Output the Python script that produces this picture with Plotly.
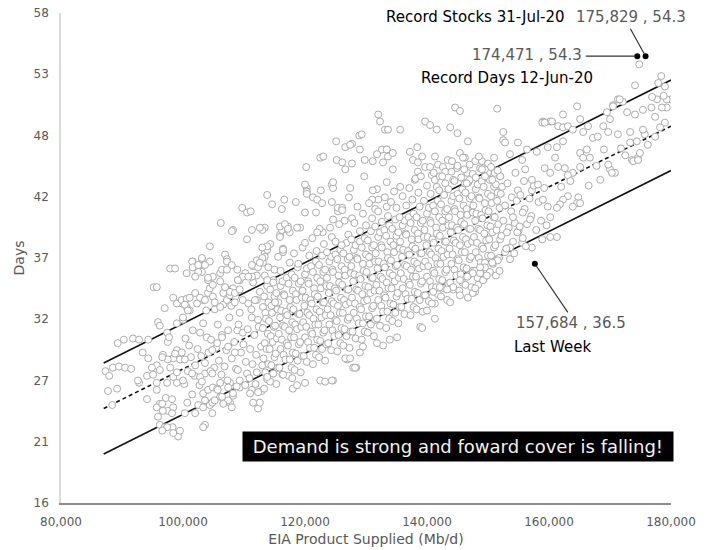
import plotly.graph_objects as go

# ---------------- data (x in thousand Mb/d, y in days) ----------------
left_sparse = [
    (87.3,27.3),(87.9,26.9),(88.5,27.6),(89.5,27.7),(90.5,27.6),(91.5,27.5),(87.7,25.6),(89.2,25.8),(88.4,24.4),
    (89.3,29.7),(90.3,30.0),(91.8,30.1),(92.8,30.0),(94.3,30.0),
    (92.8,26.3),(94.1,26.9),(94.1,24.9),(95.7,26.3),(95.1,27.0),(96.2,24.5),(95.9,23.4),(96.2,22.7),(97.0,22.5),
    (98.3,22.5),(99.2,21.7),(97.5,23.9),(98.4,24.2),(97.2,25.0),(98.2,24.9),
    (95.2,34.5),(95.7,34.5),(98.4,33.6),(97.0,32.7),(95.9,31.5),(96.2,31.2),(97.4,30.6),(97.5,29.8),(97.7,30.2),
    (99.0,31.4),(100.0,31.7),(99.8,33.1),(99.0,29.1),(99.8,28.9),(98.4,28.4),(99.5,28.3),(96.7,28.7),(97.5,28.3),
    (95.7,27.8),(96.2,27.4),(95.7,25.7),(97.4,26.3),(98.4,26.8),(99.0,26.3),(97.9,27.6),
    (97.9,36.1),(98.7,36.1),(93.4,28.9),(94.3,28.4),(92.6,26.5),(94.9,27.6),
    (96.6,28.5),(98.7,28.8),(99.0,27.2),(99.0,33.1),(99.8,33.4),
    (95.7,24.2),(96.6,24.5),(96.7,23.9),(98.2,23.7),(97.4,22.5),(96.6,22.2),(98.4,22.0),(99.5,22.2),
]

band_100_113 = [
    (100.6,35.7),(101.6,36.7),(103.1,36.9),(102.4,36.2),(103.1,35.8),(104.4,38.0),(106.9,37.3),(107.2,36.9),
    (100.6,33.5),(100.6,32.8),(101.1,32.5),(102.3,33.1),(103.3,33.4),(104.1,35.1),(104.9,35.4),(106.1,35.7),
    (107.2,34.3),(108.2,34.4),(109.3,35.1),(110.2,35.7),(112.1,35.5),(111.5,34.9),(109.8,33.4),(110.7,33.1),
    (112.1,33.4),(113.1,32.8),(109.3,32.3),(111.3,31.9),(112.3,31.7),(107.4,30.8),(108.9,30.8),(109.8,30.6),
    (105.7,31.3),(103.3,31.4),(101.6,30.8),(102.8,30.6),(103.9,30.2),
    (103.6,22.7),(102.5,24.4),(103.3,24.2),(104.4,24.4),(104.8,24.6),(103.3,25.4),(104.1,25.7),(104.9,25.9),
    (106.1,25.1),(107.7,24.6),(108.2,25.2),(109.3,25.9),(110.2,26.1),(111.3,25.7),(112.3,24.1),(112.6,24.6),
    (111.5,24.6),(106.1,26.3),(107.7,26.3),(109.3,26.5),(110.5,27.1),(112.1,27.2),
    (100.2,26.2),(100.8,27.3),(101.3,28.5),(101.9,26.9),(102.4,29.2),(102.0,27.8),(103.0,28.6),(103.6,27.1),
    (104.2,28.9),(104.6,30.0),(105.1,27.6),(105.4,29.3),(105.9,28.2),(106.4,30.4),(106.8,27.7),(107.1,29.1),
    (107.6,31.9),(108.0,28.4),(108.4,29.8),(108.7,27.5),(109.1,31.3),(109.5,28.9),(109.9,29.6),(110.3,28.1),
    (110.6,30.9),(111.0,29.2),(111.4,27.9),(111.7,30.4),(112.0,28.7),(112.4,31.1),(112.8,29.4),(113.0,27.8),
    (101.0,29.5),(100.4,30.1),(103.8,32.5),(105.2,32.6),(106.6,33.0),(107.9,32.9),(108.6,33.7),(111.2,32.6),
    (112.6,34.1),(104.5,27.3),(106.3,27.0),(107.3,26.5),(109.0,27.4),(110.9,26.7),(111.9,26.2),(102.7,26.1),
    (101.5,25.3),(100.7,24.6),(105.6,25.8),(108.8,26.0),(112.9,25.6),
    (100.3,28.3),(100.0,26.5),(101.5,27.1),(102.8,26.8),(103.1,26.4),(103.6,28.0),(104.8,29.1),(105.6,29.7),
    (106.4,30.2),(107.4,29.4),(108.5,28.9),(104.8,27.1),(105.7,25.7),(107.4,25.9),
    (100.3,33.0),(100.8,32.5),(100.0,31.9),(101.1,33.6),(102.0,34.0),(102.8,33.6),(103.6,33.4),(104.1,34.0),
    (104.4,34.4),(104.9,33.7),(105.2,33.2),(106.1,32.8),(106.6,34.0),(107.2,33.4),(107.7,33.8),(108.5,33.2),
    (109.0,35.1),(104.4,36.7),(101.5,36.7),(101.6,36.2),(102.5,35.8),(102.0,35.4),(103.6,36.4),(107.2,36.7),
    (104.1,35.3),(104.9,34.7),(106.1,35.0),(106.9,34.5),(107.7,34.1),(108.5,34.0),(109.3,34.3),
    (100.3,23.7),(102.0,23.7),(103.6,24.8),(103.3,22.5),(104.8,23.7),(105.2,24.8),(106.4,25.1),(107.4,24.8),
    (108.2,25.4),(108.0,24.2),(106.6,24.5),
]

core_113_152 = [
    (113.3,25.8),(113.5,27.2),(113.2,28.4),(113.4,29.7),(113.1,31.0),(113.5,32.3),(113.3,33.7),
    (113.8,26.6),(114.0,27.9),(113.7,29.2),(113.9,30.5),(113.6,31.8),(114.0,33.2),(113.8,34.6),
    (114.3,26.4),(114.5,27.8),(114.2,29.2),(114.4,30.3),(114.1,31.6),(114.5,32.9),(114.3,34.3),
    (114.8,27.1),(115.0,28.5),(114.7,29.8),(114.9,31.1),(114.6,32.3),(115.0,33.7),(114.8,35.1),
    (115.3,26.2),(115.5,27.6),(115.2,28.8),(115.4,30.1),(115.1,31.2),(115.5,32.6),(115.3,34.0),
    (115.8,27.6),(116.0,29.2),(115.7,30.5),(115.9,31.9),(115.6,33.2),(116.0,34.6),
    (116.3,27.0),(116.5,28.7),(116.2,30.0),(116.4,31.2),(116.1,32.5),(116.5,33.9),(116.3,35.0),
    (116.8,28.3),(117.0,29.7),(116.7,31.1),(116.9,32.4),(116.6,33.8),(117.0,35.3),
    (117.3,26.9),(117.5,28.3),(117.2,29.5),(117.4,30.8),(117.1,32.1),(117.5,33.4),(117.3,34.8),
    (117.8,27.6),(118.0,28.9),(117.7,30.2),(117.9,31.5),(117.6,32.8),(118.0,34.2),(117.8,35.6),
    (118.3,27.4),(118.5,28.8),(118.2,30.2),(118.4,31.3),(118.1,32.6),(118.5,33.9),(118.3,35.3),
    (118.8,28.2),(119.0,29.6),(118.7,30.9),(118.9,32.2),(118.6,33.4),(119.0,34.8),(118.8,36.2),
    (119.3,27.2),(119.5,28.6),(119.2,29.8),(119.4,31.1),(119.1,32.2),(119.5,33.6),(119.3,35.0),
    (119.8,28.6),(120.0,30.2),(119.7,31.5),(119.9,32.9),(119.6,34.2),(120.0,35.6),
    (120.3,28.1),(120.5,29.8),(120.2,31.1),(120.4,32.3),(120.1,33.6),(120.5,35.0),(120.3,36.1),
    (120.8,29.3),(121.0,30.7),(120.7,32.1),(120.9,33.4),(120.6,34.8),(121.0,36.3),
    (121.3,27.9),(121.5,29.3),(121.2,30.5),(121.4,31.8),(121.1,33.1),(121.5,34.4),(121.3,35.8),
    (121.8,28.7),(122.0,30.0),(121.7,31.3),(121.9,32.6),(121.6,33.9),(122.0,35.3),(121.8,36.7),
    (122.3,28.5),(122.5,29.9),(122.2,31.3),(122.4,32.4),(122.1,33.7),(122.5,35.0),(122.3,36.4),
    (122.8,29.2),(123.0,30.6),(122.7,31.9),(122.9,33.2),(122.6,34.4),(123.0,35.8),(122.8,37.2),
    (123.3,28.2),(123.5,29.6),(123.2,30.8),(123.4,32.1),(123.1,33.2),(123.5,34.6),(123.3,36.0),
    (123.8,29.7),(124.0,31.3),(123.7,32.6),(123.9,34.0),(123.6,35.3),(124.0,36.7),
    (124.3,29.1),(124.5,30.8),(124.2,32.1),(124.4,33.3),(124.1,34.6),(124.5,36.0),(124.3,37.1),
    (124.8,30.3),(125.0,31.7),(124.7,33.1),(124.9,34.4),(124.6,35.8),(125.0,37.3),
    (125.3,29.0),(125.5,30.4),(125.2,31.6),(125.4,32.9),(125.1,34.2),(125.5,35.5),(125.3,36.9),
    (125.8,29.7),(126.0,31.0),(125.7,32.3),(125.9,33.6),(125.6,34.9),(126.0,36.3),(125.8,37.7),
    (126.3,29.5),(126.5,30.9),(126.2,32.3),(126.4,33.4),(126.1,34.7),(126.5,36.0),(126.3,37.4),
    (126.8,30.3),(127.0,31.7),(126.7,33.0),(126.9,34.3),(126.6,35.5),(127.0,36.9),(126.8,38.3),
    (127.3,29.3),(127.5,30.7),(127.2,31.9),(127.4,33.2),(127.1,34.3),(127.5,35.7),(127.3,37.1),
    (127.8,30.7),(128.0,32.3),(127.7,33.6),(127.9,35.0),(127.6,36.3),(128.0,37.7),
    (128.3,30.1),(128.5,31.8),(128.2,33.1),(128.4,34.3),(128.1,35.6),(128.5,37.0),(128.3,38.1),
    (128.8,31.4),(129.0,32.8),(128.7,34.2),(128.9,35.5),(128.6,36.9),(129.0,38.4),
    (129.3,30.0),(129.5,31.4),(129.2,32.6),(129.4,33.9),(129.1,35.2),(129.5,36.5),(129.3,37.9),
    (129.8,30.7),(130.0,32.0),(129.7,33.3),(129.9,34.6),(129.6,35.9),(130.0,37.3),(129.8,38.7),
    (130.3,30.6),(130.5,32.0),(130.2,33.4),(130.4,34.5),(130.1,35.8),(130.5,37.1),(130.3,38.5),
    (130.8,31.3),(131.0,32.7),(130.7,34.0),(130.9,35.3),(130.6,36.5),(131.0,37.9),(130.8,39.3),
    (131.3,30.3),(131.5,31.7),(131.2,32.9),(131.4,34.2),(131.1,35.3),(131.5,36.7),(131.3,38.1),
    (131.8,31.8),(132.0,33.4),(131.7,34.7),(131.9,36.1),(131.6,37.4),(132.0,38.8),
    (132.3,31.2),(132.5,32.9),(132.2,34.2),(132.4,35.4),(132.1,36.7),(132.5,38.1),(132.3,39.2),
    (132.8,32.4),(133.0,33.8),(132.7,35.2),(132.9,36.5),(132.6,37.9),(133.0,39.4),
    (133.3,31.0),(133.5,32.4),(133.2,33.6),(133.4,34.9),(133.1,36.2),(133.5,37.5),(133.3,38.9),
    (133.8,31.8),(134.0,33.1),(133.7,34.4),(133.9,35.7),(133.6,37.0),(134.0,38.4),(133.8,39.8),
    (134.3,31.6),(134.5,33.0),(134.2,34.4),(134.4,35.5),(134.1,36.8),(134.5,38.1),(134.3,39.5),
    (134.8,32.3),(135.0,33.7),(134.7,35.0),(134.9,36.3),(134.6,37.5),(135.0,38.9),(134.8,40.3),
    (135.3,31.4),(135.5,32.8),(135.2,34.0),(135.4,35.3),(135.1,36.4),(135.5,37.8),(135.3,39.2),
    (135.8,32.8),(136.0,34.4),(135.7,35.7),(135.9,37.1),(135.6,38.4),(136.0,39.8),
    (136.3,32.2),(136.5,33.9),(136.2,35.2),(136.4,36.4),(136.1,37.7),(136.5,39.1),(136.3,40.2),
    (136.8,33.5),(137.0,34.9),(136.7,36.3),(136.9,37.6),(136.6,39.0),(137.0,40.5),
    (137.3,32.1),(137.5,33.5),(137.2,34.7),(137.4,36.0),(137.1,37.3),(137.5,38.6),(137.3,40.0),
    (137.8,32.8),(138.0,34.1),(137.7,35.4),(137.9,36.7),(137.6,38.0),(138.0,39.4),(137.8,40.8),
    (138.3,32.6),(138.5,34.0),(138.2,35.4),(138.4,36.5),(138.1,37.8),(138.5,39.1),(138.3,40.5),
    (138.8,33.4),(139.0,34.8),(138.7,36.1),(138.9,37.4),(138.6,38.6),(139.0,40.0),(138.8,41.4),
    (139.3,32.4),(139.5,33.8),(139.2,35.0),(139.4,36.3),(139.1,37.4),(139.5,38.8),(139.3,40.2),
    (139.8,33.8),(140.0,35.4),(139.7,36.7),(139.9,38.1),(139.6,39.4),(140.0,40.8),
    (140.3,33.3),(140.5,35.0),(140.2,36.3),(140.4,37.5),(140.1,38.8),(140.5,40.2),(140.3,41.3),
    (140.8,34.5),(141.0,35.9),(140.7,37.3),(140.9,38.6),(140.6,40.0),(141.0,41.5),
    (141.3,33.1),(141.5,34.5),(141.2,35.7),(141.4,37.0),(141.1,38.3),(141.5,39.6),(141.3,41.0),
    (141.8,33.9),(142.0,35.2),(141.7,36.5),(141.9,37.8),(141.6,39.1),(142.0,40.5),(141.8,41.9),
    (142.3,33.7),(142.5,35.1),(142.2,36.5),(142.4,37.6),(142.1,38.9),(142.5,40.2),(142.3,41.6),
    (142.8,34.4),(143.0,35.8),(142.7,37.1),(142.9,38.4),(142.6,39.6),(143.0,41.0),(142.8,42.4),
    (143.3,33.4),(143.5,34.8),(143.2,36.0),(143.4,37.3),(143.1,38.4),(143.5,39.8),(143.3,41.2),
    (143.8,34.9),(144.0,36.5),(143.7,37.8),(143.9,39.2),(143.6,40.5),(144.0,41.9),
    (144.3,34.3),(144.5,36.0),(144.2,37.3),(144.4,38.5),(144.1,39.8),(144.5,41.2),(144.3,42.3),
    (144.8,35.5),(145.0,36.9),(144.7,38.3),(144.9,39.6),(144.6,41.0),(145.0,42.5),
    (145.3,34.2),(145.5,35.6),(145.2,36.8),(145.4,38.1),(145.1,39.4),(145.5,40.7),(145.3,42.1),
    (145.8,34.9),(146.0,36.2),(145.7,37.5),(145.9,38.8),(145.6,40.1),(146.0,41.5),(145.8,42.9),
    (146.3,34.7),(146.5,36.1),(146.2,37.5),(146.4,38.6),(146.1,39.9),(146.5,41.2),(146.3,42.6),
    (146.8,35.5),(147.0,36.9),(146.7,38.2),(146.9,39.5),(146.6,40.7),(147.0,42.1),(146.8,43.5),
    (147.3,34.5),(147.5,35.9),(147.2,37.1),(147.4,38.4),(147.1,39.5),(147.5,40.9),(147.3,42.3),
    (147.8,35.9),(148.0,37.5),(147.7,38.8),(147.9,40.2),(147.6,41.5),(148.0,42.9),
    (148.3,35.3),(148.5,37.0),(148.2,38.3),(148.4,39.5),(148.1,40.8),(148.5,42.2),(148.3,43.3),
    (148.8,36.6),(149.0,38.0),(148.7,39.4),(148.9,40.7),(148.6,42.1),(149.0,43.6),
    (149.3,35.2),(149.5,36.6),(149.2,37.8),(149.4,39.1),(149.1,40.4),(149.5,41.7),(149.3,43.1),
    (149.8,35.9),(150.0,37.2),(149.7,38.5),(149.9,39.8),(149.6,41.1),(150.0,42.5),(149.8,43.9),
    (150.3,35.8),(150.5,37.2),(150.2,38.6),(150.4,39.7),(150.1,41.0),(150.5,42.3),(150.3,43.7),
    (150.8,36.5),(151.0,37.9),(150.7,39.2),(150.9,40.5),(150.6,41.7),(151.0,43.1),(150.8,44.5),
    (151.3,35.5),(151.5,36.9),(151.2,38.1),(151.4,39.4),(151.1,40.5),(151.5,41.9),(151.3,43.3),
    (151.8,37.0),(152.0,38.6),(151.7,39.9),(151.9,41.3),(151.6,42.6),(152.0,44.0),
]

lower_edge = [
    (113.8,26.8),(114.8,27.1),(116.4,27.0),(118.0,25.8),(120.0,26.3),(122.5,26.5),(124.6,26.5),(126.9,28.3),
    (127.9,27.6),(123.3,26.4),(124.4,26.5),(128.4,27.6),(126.6,28.4),(118.7,26.1),(117.9,26.7),(112.3,25.5),
    (111.0,25.4),(138.9,31.1),(139.2,31.0),(141.3,31.8),(140.0,32.5),(140.8,33.1),(143.8,33.2),(145.4,33.8),
    (146.7,33.6),(147.9,34.1),(148.4,34.7),(149.2,35.1),(149.8,35.5),(148.7,35.7),(135.1,30.2),(133.9,30.0),
    (132.8,29.5),(131.8,29.7),(129.5,29.4),(128.2,27.6),(127.4,28.4),(129.0,28.9),(157.2,37.9),(155.6,38.3),
    (153.6,37.9),(152.8,37.5),(151.6,36.8),(150.7,36.6),(149.5,36.2),(148.7,36.2),(147.5,35.7),(146.6,35.4),
    (145.4,35.1),(144.3,34.5),(143.3,34.3),(142.1,34.5),(141.0,34.1),(139.7,33.8),(147.5,34.0),(147.9,34.4),
]

upper_spread = [
    (106.2,40.0),(108.2,39.4),(108.0,39.3),(109.7,41.3),(110.5,40.9),(111.1,41.0),(110.5,38.6),(111.5,36.3),
    (112.3,36.2),(113.4,35.5),(112.1,36.8),(113.1,36.6),(113.4,37.4),(113.8,42.4),(114.6,41.6),(116.2,41.2),
    (116.6,42.0),(115.9,39.0),(116.2,39.4),(116.4,37.8),(116.4,37.5),(117.2,39.7),(117.2,39.4),(118.5,41.8),
    (119.2,39.6),(120.2,44.8),(120.3,43.0),(120.3,42.7),(120.3,42.5),(121.3,42.2),(122.0,42.0),(122.8,41.7),
    (122.6,42.8),(122.5,45.6),(123.0,45.7),(121.8,40.9),(122.9,39.2),(124.4,41.8),(124.6,40.3),(124.4,43.3),
    (124.6,43.0),(125.1,47.0),(126.6,46.5),(127.7,46.8),(125.2,45.4),(126.1,45.2),(126.6,44.6),(127.7,45.1),
    (127.4,43.0),(127.2,42.2),(125.4,41.0),(127.7,40.4),(128.9,47.5),
    (132.0,49.3),(132.3,48.7),(133.1,48.0),(129.3,47.6),(133.4,46.3),(132.6,46.3),(131.8,45.9),(131.1,45.3),
    (129.8,45.4),(129.7,44.0),(131.8,42.9),(131.1,42.8),(132.0,42.0),(131.0,42.0),(131.5,41.2),(133.4,41.4),
    (133.4,43.5),(125.4,41.3),(126.1,41.3),(124.4,38.8),(118.7,39.6),(117.5,39.2),(115.9,39.7),(116.7,39.9),
    (113.4,39.6),(113.0,39.4),(114.3,38.2),(116.4,37.7),(113.4,37.1),(111.3,35.4),(113.8,35.1),(114.8,34.9),
    (111.8,33.4),(115.1,33.2),
    (135.6,48.0),(139.7,48.7),(140.5,48.4),(141.6,48.0),(143.8,48.2),(145.0,47.7),(144.6,49.9),(145.4,49.6),
    (151.5,49.8),(152.5,47.8),(152.5,47.1),(152.8,46.9),(154.9,46.9),(153.6,45.9),(146.7,47.0),(127.4,46.7),
    (129.0,46.3),(133.4,46.3),(133.6,45.7),(132.8,45.2),(134.4,46.0),(138.4,46.5),(137.7,45.4),(139.2,45.7),
    (138.5,45.2),(139.7,44.8),(141.3,45.7),(141.8,45.0),(140.5,44.8),(142.6,44.8),(143.4,45.4),(145.4,46.0),
    (146.2,45.6),(144.9,44.7),(146.6,44.3),(147.9,45.3),(149.0,45.3),(148.7,44.7),(150.0,44.3),(151.1,44.3),
    (133.6,48.0),(134.4,44.6),(135.6,43.1),(137.2,46.1),(138.5,44.4),(138.0,43.7),(140.8,44.1),(141.3,43.7),
    (142.1,44.0),(143.0,44.4),(144.1,45.3),(145.9,45.6),(144.3,43.7),(146.2,43.4),(147.0,43.7),(149.5,44.6),
    (150.7,43.7),(152.0,44.0),(152.3,43.1),(153.9,42.2),(154.9,42.8),(157.2,42.8),
    (114.0,36.2),(115.0,36.0),(115.6,37.1),(116.0,35.9),(117.5,36.6),(118.2,37.4),(118.9,36.5),(119.6,37.9),
    (120.0,38.3),(120.7,37.2),(121.2,38.7),(121.9,37.6),(122.4,39.5),(123.1,38.2),(123.6,37.5),(124.1,39.6),
    (125.0,38.4),(125.6,39.9),(126.0,38.1),(126.5,40.2),(127.1,39.0),(127.6,38.6),(128.1,40.0),(128.6,41.4),
    (129.0,39.3),(129.5,40.8),(130.0,39.8),(130.5,41.7),(131.0,40.4),(131.5,39.7),(132.0,41.0),(132.6,40.1),
    (133.1,42.2),(133.6,40.6),(134.1,41.8),(134.6,42.7),(135.0,41.3),(135.5,40.5),(136.0,42.3),(136.6,41.5),
    (137.1,43.0),(137.6,42.0),(138.1,43.8),(138.6,42.6),(139.0,44.0),(139.5,41.9),(140.0,43.2),(140.6,42.5),
    (141.1,44.3),(141.6,43.1),(142.0,42.8),(142.5,44.0),(143.0,43.4),(143.5,42.9),(144.0,44.4),(144.5,43.6),
    (145.0,44.9),(145.6,43.9),(146.1,44.6),(146.5,43.4),(147.0,45.0),(147.5,44.2),(148.0,43.9),(148.5,45.7),
    (149.0,44.6),(149.5,44.0),(150.0,45.1),(150.5,44.8),(151.0,45.6),(151.6,44.5),
    (112.6,39.6),(115.9,38.8),(117.2,39.5),(120.0,40.9),(122.0,39.2),(126.1,41.1),(124.6,43.5),(120.0,43.3),
    (113.8,37.7),(113.0,37.0),(112.6,36.6),(111.3,36.4),(109.8,35.4),(109.0,35.1),(110.7,35.4),(106.4,36.0),
    (107.2,36.0),(108.0,36.4),(108.9,36.0),(103.1,37.0),(102.5,36.4),(111.3,39.4),(113.8,38.0),(113.0,37.9),
]

right_152_180 = [
    (152.2,38.9),(152.5,40.2),(152.8,41.5),(153.0,37.8),(153.4,39.6),(153.8,41.0),(154.1,38.4),(154.4,40.0),
    (154.7,41.9),(155.0,39.3),(155.3,42.4),(155.7,38.7),(156.0,41.2),(156.4,39.9),(156.8,42.1),(157.1,40.6),
    (157.5,43.2),(157.9,39.4),(158.3,41.8),(158.7,40.2),(159.2,43.0),(159.6,39.8),(152.1,42.5),(153.2,43.4),
    (154.5,44.3),(155.9,43.6),(153.6,36.9),(151.9,35.9),(154.3,37.4),(156.2,38.0),
    (153.1,39.2),(154.8,39.2),(155.2,39.7),(155.7,40.9),(156.9,40.3),(154.1,40.5),
    (158.0,46.1),(159.8,46.5),(161.3,46.5),(162.3,47.0),(161.0,45.6),(156.4,46.3),(155.6,45.4),(156.1,44.6),
    (157.2,43.7),(158.2,43.3),
    (165.1,46.0),(166.2,46.3),(165.6,45.6),(166.7,45.6),(165.1,44.8),(163.9,44.3),(162.6,44.7),(163.1,44.1),
    (161.5,44.8),(160.2,44.3),(159.3,44.7),
    (164.8,42.2),(164.6,41.7),(163.1,42.3),(162.3,42.0),(161.8,41.6),(161.3,41.3),(160.2,40.5),(159.8,41.4),
    (159.0,42.0),(160.2,38.8),(161.3,38.8),(158.9,38.6),
    (163.9,41.4),(165.1,41.7),(168.4,43.7),(170.0,44.6),(170.8,44.3),(173.6,45.4),(174.6,45.6),(175.7,47.6),
    (177.4,47.4),(179.0,48.6),(179.3,49.9),(180.0,50.6),
    (178.4,52.6),(174.1,51.8),(174.8,53.6),(177.9,52.0),(171.3,50.6),(172.1,50.4),(170.5,50.1),(164.6,50.0),
    (162.3,49.3),(159.0,48.7),(160.2,48.7),
    (158.9,48.6),(159.3,48.6),(160.5,48.7),(161.5,48.3),(162.3,48.2),(163.1,48.3),(163.9,48.0),(165.1,48.9),
    (165.6,47.8),(166.4,48.3),(167.2,47.3),(168.0,47.4),(169.5,49.5),(170.5,50.0),(171.6,50.6),(168.9,48.3),
    (170.0,48.9),(169.7,47.8),
    (172.8,49.5),(174.1,49.3),(175.4,49.7),(177.4,49.1),(178.5,49.9),(179.3,50.6),(177.7,50.6),(176.9,50.8),
    (179.0,51.7),(171.3,47.6),(173.3,47.8),(175.4,48.0),(173.3,46.9),(174.4,47.0),(174.9,46.0),(173.8,45.3),
    (174.6,45.4),(169.7,45.0),(170.3,44.3),
    (166.5,43.2),(167.8,44.9),(171.8,46.4),(172.5,45.8),(176.2,46.7),(178.2,48.2),(163.5,43.6),(162.0,43.1),
    (169.0,46.3),(176.8,49.9),(178.8,50.9),
]

record_points = [(174.471, 54.3), (175.829, 54.3)]
last_week_point = [(157.684, 36.5)]

trend_x = [87.0, 180.0]
trend_upper = [28.0, 52.25]
trend_mid = [24.1, 48.3]
trend_lower = [20.2, 44.5]

y_tick_vals = [16, 21.25, 26.5, 31.75, 37, 42.25, 47.5, 52.75, 58]
y_tick_text = ["16", "21", "27", "32", "37", "42", "48", "53", "58"]
x_tick_vals = [80000, 100000, 120000, 140000, 160000, 180000]

# ---------------- figure ----------------
all_points = left_sparse + band_100_113 + core_113_152 + lower_edge + upper_spread + right_152_180
px_x = [p[0] * 1000 for p in all_points]
px_y = [p[1] for p in all_points]
tx = [v * 1000 for v in trend_x]

FONT = "DejaVu Sans"
GREY = "#595959"

fig = go.Figure()
fig.add_trace(go.Scatter(x=tx, y=trend_upper, mode="lines", line=dict(color="#111111", width=1.6)))
fig.add_trace(go.Scatter(x=tx, y=trend_lower, mode="lines", line=dict(color="#111111", width=1.6)))
fig.add_trace(go.Scatter(x=tx, y=trend_mid, mode="lines", line=dict(color="#111111", width=1.6, dash="4px,3px")))
fig.add_trace(go.Scatter(x=px_x, y=px_y, mode="markers",
                         marker=dict(symbol="circle", size=7, color="white",
                                     line=dict(color="#ababab", width=1))))
fig.add_trace(go.Scatter(x=[p[0] * 1000 for p in record_points + last_week_point],
                         y=[p[1] for p in record_points + last_week_point], mode="markers",
                         marker=dict(symbol="circle", size=6, color="black")))

ann = []
def txt(text, x, y, xanchor, color, size=15):
    ann.append(dict(text=text, x=x, y=y, xref="x", yref="y", xanchor=xanchor, yanchor="middle",
                    showarrow=False, borderpad=0, font=dict(family=FONT, size=size, color=color)))

txt("Record Stocks 31-Jul-20", 162800, 57.7, "right", "black")
txt("175,829 , 54.3", 164300, 57.7, "left", GREY)
txt("174,471 , 54.3", 165550, 54.4, "right", GREY)
txt("Record Days 12-Jun-20", 153100, 52.4, "center", "black")
txt("157,684 , 36.5", 154400, 31.45, "left", GREY)
txt("Last Week", 154100, 29.4, "left", "black")

def connector(pt, ax, ay):
    ann.append(dict(text="", x=pt[0] * 1000, y=pt[1], xref="x", yref="y", ax=ax, ay=ay,
                    showarrow=True, arrowhead=0, arrowwidth=1.2, arrowcolor="#333333", standoff=2,
                    font=dict(size=1)))

connector(record_points[0], -53, 0)
connector(record_points[1], -16, -29)
connector(last_week_point[0], 34, 50)

ann.append(dict(text="&nbsp;Demand is strong and foward cover is falling!&nbsp;", x=145000, y=20.85,
                xref="x", yref="y", showarrow=False, bgcolor="black", borderpad=4,
                font=dict(family=FONT, size=18, color="#f2f2f2")))

fig.update_layout(
    width=709, height=550,
    margin=dict(l=61, r=38, t=13, b=47, autoexpand=False),
    plot_bgcolor="white", paper_bgcolor="white",
    showlegend=False,
    font=dict(family=FONT, color=GREY, size=12),
    annotations=ann,
    xaxis=dict(range=[80000, 180000], tickvals=x_tick_vals, tickformat=",", showgrid=False, zeroline=False,
               showline=True, linecolor="#8c8c8c", linewidth=1.5, ticks="", tickfont=dict(size=12, color=GREY),
               ticklabelstandoff=7, automargin=False,
               title=dict(text="EIA Product Supplied (Mb/d)", font=dict(size=14, color=GREY), standoff=6)),
    yaxis=dict(range=[16, 58], tickvals=y_tick_vals, ticktext=y_tick_text, showgrid=False, zeroline=False,
               showline=True, linecolor="#d9d9d9", linewidth=1.5, ticks="", tickfont=dict(size=12, color=GREY),
               ticklabelstandoff=8, automargin=False,
               title=dict(text="Days", font=dict(size=14, color=GREY), standoff=6)),
)

fig.write_html("out.html", config={"displayModeBar": False},
               post_script="document.body.style.margin='0';document.body.style.padding='0';")
